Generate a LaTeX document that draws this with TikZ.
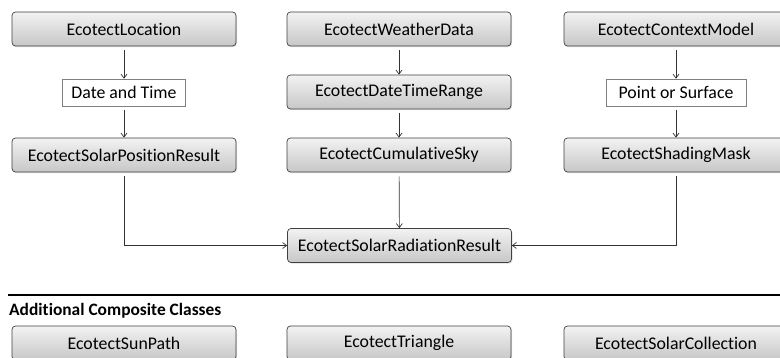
\documentclass[tikz,border=0pt]{standalone}
\usepackage{fontspec}
\setmainfont[Ligatures=NoCommon]{Carlito}
\usetikzlibrary{arrows.meta,shadows}
\tikzset{
  classbox/.style={draw=black!75, line width=0.7pt, rounded corners=3.5pt,
    top color=black!5, bottom color=black!22, minimum width=224pt, minimum height=34pt,
    inner sep=0pt, font=\fontsize{17.8}{20}\selectfont,
    drop shadow={opacity=0.25, shadow xshift=1pt, shadow yshift=-1.2pt}},
  inputbox/.style={draw=black!50, line width=0.6pt, fill=white, minimum height=27pt,
    inner sep=0pt, font=\fontsize{17.8}{20}\selectfont},
  link/.style={draw=black!80, line width=0.7pt, -{Straight Barb[length=4pt,width=6pt]},
    shorten <=4pt}
}
\begin{document}
\begin{tikzpicture}[x=1pt, y=-1pt]
			%%%%% START %%%%%
			\useasboundingbox (0, 0) rectangle (780, 358);
			
			\node[classbox] (location) at (124, 29) {EcotectLocation};
			\node[inputbox, minimum width=123pt] (datetime) at (124, 92.5) {Date and Time};
			\node[classbox] (solarpos) at (124, 155) {EcotectSolarPositionResult};
			
			\node[classbox] (weather) at (399, 29) {EcotectWeatherData};
			\node[classbox] (timerange) at (399, 92) {EcotectDateTimeRange};
			\node[classbox] (sky) at (399, 155) {EcotectCumulativeSky};
			
			\node[classbox] (context) at (676, 29) {EcotectContextModel};
			\node[inputbox, minimum width=140pt] (surface) at (676, 92.5) {Point or Surface};
			\node[classbox] (mask) at (676, 155) {EcotectShadingMask};
			
			\node[classbox] (radiation) at (399.5, 245.5) {EcotectSolarRadiationResult};
			
			\draw[link] (location) -- (datetime);
			\draw[link] (datetime) -- (solarpos);
			\draw[link] (weather) -- (timerange);
			\draw[link] (timerange) -- (sky);
			\draw[link] (context) -- (surface);
			\draw[link] (surface) -- (mask);
			
			\draw[link] (solarpos) |- (radiation);
			\draw[link] (sky) -- (radiation);
			\draw[link] (mask) |- (radiation);
			
			\draw[line width=1.2pt] (8, 295) -- (780, 295);
			\node[anchor=west, inner sep=0pt, font=\fontsize{17.4}{20}\selectfont\bfseries] (extra) at (9, 311) {Additional Composite Classes};
			
			\node[classbox] (sunpath) at (124, 343) {EcotectSunPath};
			\node[classbox] (triangle) at (399, 343) {EcotectTriangle};
			\node[classbox] (collection) at (676, 343) {EcotectSolarCollection};
			
			%%%%% END %%%%%
		\end{tikzpicture}
\end{document}
